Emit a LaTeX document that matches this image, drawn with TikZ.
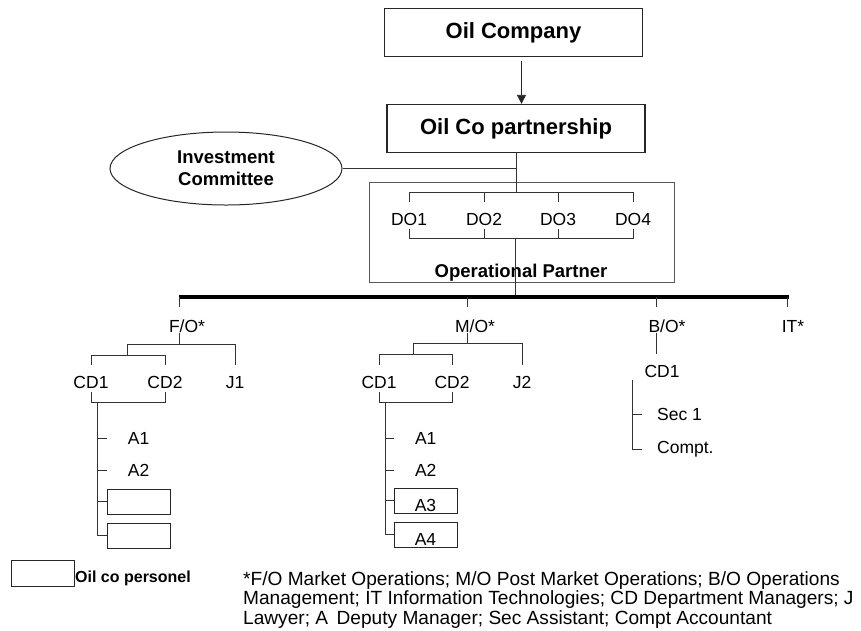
\documentclass[tikz,border=0pt]{standalone}
\usepackage{fontspec}
\setmainfont{Liberation Sans}
\usetikzlibrary{
    arrows.meta,
    positioning,
    calc,
    shapes.geometric
}

\begin{document}
\begin{tikzpicture}[
        x=1pt, y=-1pt,
        every node/.style={font=\fontsize{17.5}{21}\selectfont},
        topbox/.style={
            rectangle,
            draw=black!85,
            line width=1.3pt,
            minimum width=258pt,
            minimum height=48pt,
            inner sep=0pt,
            font=\fontsize{22}{26}\selectfont\bfseries
        },
        committee/.style={
            ellipse,
            draw=black!85,
            line width=1pt,
            minimum width=232pt,
            minimum height=73pt,
            inner sep=0pt,
            align=center,
            font=\fontsize{18.5}{22}\selectfont\bfseries
        },
        partnerbox/.style={rectangle,draw=black!65,line width=0.9pt,minimum width=305pt,minimum height=100pt,inner sep=0pt},
        unit/.style={anchor=base,inner sep=0pt,text height=23pt,text depth=4pt},
        head/.style={unit,text height=25pt,text depth=1pt},
        deputy/.style={anchor=west,inner sep=0pt,text width=63pt,align=center},
        staff/.style={anchor=west,inner ysep=0pt,inner xsep=15pt},
        personel/.style={
            rectangle,
            draw=black!85,
            line width=1pt,
            minimum width=63pt,
            minimum height=25pt,
            inner sep=0pt,
            text height=21pt,
            text depth=0pt
        },
        link/.style={draw=black!80,line width=0.8pt},
        bus/.style={draw=black,line width=4pt},
        flow/.style={-{Triangle[length=9pt,width=9pt]},draw=black!85,line width=0.8pt}
    ]
        \useasboundingbox (0,0) rectangle (861,630);

        % top of the chart
        \node[topbox] (oilco) at (513.5,32.5) {Oil Company};
        \node[topbox] (partner) at (516,128.5) {Oil Co partnership};
        \node[committee] (invest) at (226,168.5) {Investment\\Committee};
        \node[partnerbox] (opbox) at (521.5,232) {};
        \node[anchor=base,font=\fontsize{18.5}{22}\selectfont\bfseries] (optitle) at (521,277) {Operational Partner};

        \coordinate (arrowtop) at ([xshift=8pt,yshift=-4pt]oilco.south);
        \draw[flow] (arrowtop) -- (arrowtop |- partner.north);

        \coordinate (dotop) at (516,192);
        \coordinate (dobot) at (515,238);
        \draw[link] (partner.south) -- (dotop);
        \draw[link] (invest.east) -- (invest.east -| partner.south);

        % directors
        \foreach \n/\x in {1/409,2/484,3/558,4/633}
            \node[unit] (do\n) at (\x,225) {DO\n};
        \draw[link] (do1.north) |- (do4.north |- dotop) -- (do4.north);
        \draw[link] (do1.south) |- (do4.south |- dobot) -- (do4.south);
        \foreach \n in {2,3} {
            \draw[link] (do\n.north) -- (do\n.north |- dotop);
            \draw[link] (do\n.south) -- (do\n.south |- dobot);
        }

        % main bar
        \coordinate (busL) at (179,297);
        \coordinate (busR) at (789,297);
        \draw[link] (dobot) -- (dobot |- busL);
        \draw[bus] (busL) -- (busR);

        \node[head] (fo) at (187,332) {F/O*};
        \node[head] (mo) at (475,332) {M/O*};
        \node[head] (bo) at (667,332) {B/O*};
        \node[head] (it) at (793,332) {IT*};
        \foreach \h/\x in {fo/179,mo/467,bo/656,it/787} {
            \coordinate (tap-\h) at (\x,297);
            \draw[link] (tap-\h) -- (tap-\h |- \h.north);
        }

        % F/O branch
        \node[unit] (fo-cd1) at (91,388) {CD1};
        \node[unit] (fo-cd2) at (165,388) {CD2};
        \node[unit] (fo-j) at (235,388) {J1};
        \coordinate (fork-fo) at (179,344);
        \coordinate (cdbar-fo) at (127,355);
        \coordinate (cdbot-fo) at (97,402);
        \draw[link] (tap-fo |- fo.south) -- (fork-fo);
        \draw[link] (fo-j.north) |- (fork-fo);
        \draw[link] (fork-fo) -| (cdbar-fo);
        \draw[link] (fo-cd1.north) |- (cdbar-fo);
        \draw[link] (fo-cd2.north) |- (cdbar-fo);
        \draw[link] (fo-cd1.south) |- (fo-cd2.south |- cdbot-fo) -- (fo-cd2.south);

        \node[deputy] (fo-a1) at (107,438) {A1};
        \node[deputy] (fo-a2) at (107,470) {A2};
        \node[personel] (fo-p1) at (138.5,501.5) {};
        \node[personel, below=8pt of fo-p1] (fo-p2) {};
        \draw[link] (cdbot-fo) |- (fo-p2.west);
        \draw[link] (cdbot-fo |- fo-a1.west) -- (fo-a1.west);
        \draw[link] (cdbot-fo |- fo-a2.west) -- (fo-a2.west);
        \draw[link] (cdbot-fo |- fo-p1.west) -- (fo-p1.west);

        % M/O branch
        \node[unit] (mo-cd1) at (379,388) {CD1};
        \node[unit] (mo-cd2) at (452,388) {CD2};
        \node[unit] (mo-j) at (522,388) {J2};
        \coordinate (fork-mo) at (467,343);
        \coordinate (cdbar-mo) at (413,354);
        \coordinate (cdbot-mo) at (385,402);
        \draw[link] (tap-mo |- mo.south) -- (fork-mo);
        \draw[link] (mo-j.north) |- (fork-mo);
        \draw[link] (fork-mo) -| (cdbar-mo);
        \draw[link] (mo-cd1.north) |- (cdbar-mo);
        \draw[link] (mo-cd2.north) |- (cdbar-mo);
        \draw[link] (mo-cd1.south) |- (mo-cd2.south |- cdbot-mo) -- (mo-cd2.south);

        \node[deputy] (mo-a1) at (394,438) {A1};
        \node[deputy] (mo-a2) at (394,470) {A2};
        \node[personel] (mo-a3) at (425.5,500.5) {A3};
        \node[personel, below=8pt of mo-a3] (mo-a4) {A4};
        \draw[link] (cdbot-mo) |- (mo-a4.west);
        \draw[link] (cdbot-mo |- mo-a1.west) -- (mo-a1.west);
        \draw[link] (cdbot-mo |- mo-a2.west) -- (mo-a2.west);
        \draw[link] (cdbot-mo |- mo-a3.west) -- (mo-a3.west);

        % B/O branch
        \node[unit] (bo-cd) at (662,377) {CD1};
        \draw[link] (tap-bo |- bo.south) -- (tap-bo |- bo-cd.north);
        \coordinate (spine-bo) at (632,380);
        \node[staff] (bo-sec) at (642,414) {Sec 1};
        \node[staff] (bo-compt) at (642,449) {Compt.};
        \draw[link] (spine-bo) |- (bo-compt.west);
        \draw[link] (spine-bo |- bo-sec.west) -- (bo-sec.west);

        % legend and notes
        \node[personel,minimum height=26pt] (legend) at (42.5,573) {};
        \node[anchor=base west,inner sep=1pt,font=\fontsize{16}{19}\selectfont\bfseries] (legendtext) at (74,582) {Oil co personel};
        \node[anchor=north west,inner sep=0pt,align=left,font=\fontsize{19.1}{19.5}\selectfont] (notes) at (243,571)
            {*F/O Market Operations; M/O Post Market Operations; B/O Operations\\
             Management; IT Information Technologies; CD Department Managers; J\\
             Lawyer; A\hspace{0.45em}Deputy Manager; Sec Assistant; Compt Accountant};
    \end{tikzpicture}
\end{document}
